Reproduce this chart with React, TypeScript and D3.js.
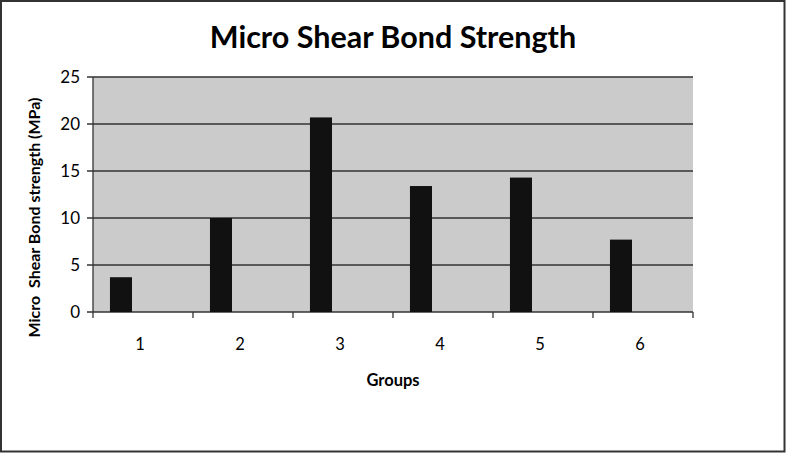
import React from 'react';
import * as d3 from 'd3';

const groups = ['1', '2', '3', '4', '5', '6'];
const strength = [3.7, 10.0, 20.7, 13.4, 14.3, 7.7];
const emptySeriesA = [0, 0, 0, 0, 0, 0];
const emptySeriesB = [0, 0, 0, 0, 0, 0];
const yTicks = [0, 5, 10, 15, 20, 25];

const W = 786;
const H = 453;
const plot = { left: 93, right: 693, top: 77, bottom: 312 };
const font = 'Lato, "Open Sans", sans-serif';

export default function App() {
  const x = d3.scaleBand<string>().domain(groups).range([plot.left, plot.right]);
  const series = [strength, emptySeriesA, emptySeriesB];
  const inner = d3
    .scaleBand<number>()
    .domain(series.map((_, i) => i))
    .range([0, x.bandwidth()])
    .paddingOuter(0.77)
    .paddingInner(0);
  const y = d3.scaleLinear().domain([0, 25]).range([plot.bottom, plot.top]);
  const boundaries = groups.map((g) => x(g) as number).concat([plot.right]);

  return (
    <svg width={W} height={H} style={{ position: 'absolute', left: 0, top: 0 }}>
      <rect x={1} y={1} width={W - 2.5} height={H - 2.5} fill="#fff" stroke="#333" strokeWidth={2} />
      <text x={393} y={48} textAnchor="middle" fontFamily={font} fontWeight="bold" fontSize={30.5} fill="#000">
        Micro Shear Bond Strength
      </text>
      <rect x={plot.left} y={plot.top} width={plot.right - plot.left} height={plot.bottom - plot.top} fill="#cbcbcb" />
      {yTicks.map((t) => (
        <g key={t}>
          <line x1={plot.left - 6} x2={plot.right} y1={y(t)} y2={y(t)} stroke="#333" strokeWidth={1.3} />
          <text x={80} y={y(t) + 5.5} textAnchor="end" fontFamily={font} fontSize={17} fill="#000">
            {t}
          </text>
        </g>
      ))}
      <line x1={plot.left} x2={plot.left} y1={plot.top} y2={plot.bottom} stroke="#333" strokeWidth={1.3} />
      {boundaries.map((b, i) => (
        <line key={i} x1={b} x2={b} y1={plot.bottom} y2={plot.bottom + 6} stroke="#333" strokeWidth={1.3} />
      ))}
      {series.map((vals, si) =>
        vals.map((v, gi) => (
          <rect
            key={`${si}-${gi}`}
            x={(x(groups[gi]) as number) + (inner(si) as number)}
            y={y(v)}
            width={inner.bandwidth()}
            height={plot.bottom - y(v)}
            fill="#111"
            stroke="#111"
            strokeWidth={v === 0 ? 0.8 : 0}
          />
        ))
      )}
      {groups.map((g) => (
        <text
          key={g}
          x={(x(g) as number) + x.bandwidth() / 2 - 3}
          y={350}
          textAnchor="middle"
          fontFamily={font}
          fontSize={16.5}
          fill="#000"
        >
          {g}
        </text>
      ))}
      <text x={393} y={386} textAnchor="middle" fontFamily={font} fontWeight="bold" fontSize={16.5} fill="#000">
        Groups
      </text>
      <text
        transform={`translate(40, ${(plot.top + plot.bottom) / 2 + 23}) rotate(-90)`}
        textAnchor="middle"
        fontFamily={font}
        fontWeight="bold"
        fontSize={16}
        fill="#000"
        style={{ whiteSpace: 'pre' }}
      >
        Micro  Shear Bond strength (MPa)
      </text>
    </svg>
  );
}
